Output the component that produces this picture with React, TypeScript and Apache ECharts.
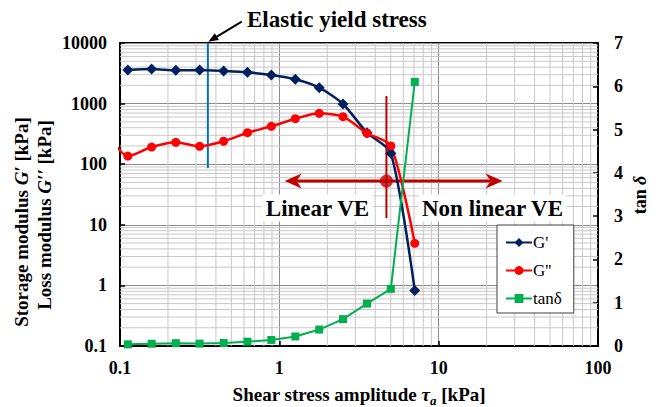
import React, { useEffect, useRef } from 'react';
import * as echarts from 'echarts';

// Shear stress amplitude sweep [kPa]
const stress = [0.112, 0.158, 0.224, 0.316, 0.447, 0.631, 0.891, 1.26, 1.78, 2.51, 3.55, 5.01, 7.08];
// Storage modulus G' [kPa]
const storageModulus = [3580, 3720, 3540, 3580, 3450, 3280, 2970, 2520, 1830, 985, 331, 152, 0.82];
// Loss modulus G'' [kPa] (one extra reading below the plotted range)
const lossStress = [0.0794, 0.112, 0.158, 0.224, 0.316, 0.447, 0.631, 0.891, 1.26, 1.78, 2.51, 3.55, 5.01, 7.08];
const lossModulus = [400, 136, 192, 230, 197, 239, 331, 422, 564, 692, 608, 324, 200, 4.95];
// Loss factor tan(delta)
const tanDelta = [0.038, 0.052, 0.065, 0.055, 0.069, 0.10, 0.14, 0.22, 0.38, 0.62, 0.98, 1.32, 6.1];

// Tick labels
const xTicks = ['0.1', '1', '10', '100'];
const yTicks = ['0.1', '1', '10', '100', '1000', '10000'];

// Annotations (data units)
const yieldStress = 0.356;
const yieldMarker = [86, 10000];
const transitionStress = 4.7;
const transitionMarker = [12.9, 1334];
const regimeLevel = 52.8;
const regimeArrow = [1.08, 25.2];

const FONT = '"Liberation Serif", "Times New Roman", Times, serif';
const NAVY = '#002060';
const RED = '#FF0000';
const GREEN = '#00B050';
const DARK_RED = '#C00000';
const BLUE = '#0070C0';

const minorX: number[] = [];
for (let e = -1; e <= 1; e++) for (let k = 2; k <= 9; k++) minorX.push(k * Math.pow(10, e));
const minorY: number[] = [];
for (let e = -1; e <= 3; e++) for (let k = 2; k <= 9; k++) minorY.push(k * Math.pow(10, e));

export default function App() {
  const ref = useRef<HTMLDivElement>(null);

  useEffect(() => {
    const chart = echarts.init(ref.current!, null, { renderer: 'svg' });

    const labelStyle = { fontFamily: FONT, fontWeight: 'bold' as const, fontSize: 18, color: '#000' };
    const titleRich = {
      b: { fontFamily: FONT, fontWeight: 'bold', fontSize: 19, fill: '#000' },
      i: { fontFamily: FONT, fontWeight: 'bold', fontStyle: 'italic', fontSize: 19, fill: '#000' },
    };

    const option: any = {
      animation: false,
      backgroundColor: '#fff',
      grid: {
        left: 120,
        top: 43,
        right: 60,
        bottom: 61,
        show: true,
        borderColor: '#000',
        borderWidth: 2,
        backgroundColor: '#fff',
      },
      xAxis: {
        type: 'log',
        logBase: 10,
        min: 0.1,
        max: 100,
        axisLine: { lineStyle: { color: '#000', width: 2 } },
        axisTick: { inside: true, length: 5, lineStyle: { color: '#000', width: 1.5 } },
        axisLabel: {
          ...labelStyle,
          margin: 13,
          formatter: (v: number) => xTicks.find((t) => Math.abs(parseFloat(t) - v) < 1e-9 * Math.max(1, v)) ?? String(v),
        },
        splitLine: { show: true, lineStyle: { color: '#8c8c8c', width: 1 } },
      },
      yAxis: [
        {
          type: 'log',
          logBase: 10,
          min: 0.1,
          max: 10000,
          axisLine: { show: true, lineStyle: { color: '#000', width: 2 } },
          axisTick: { show: true, inside: true, length: 5, lineStyle: { color: '#000', width: 1.5 } },
          axisLabel: {
            ...labelStyle,
            margin: 13,
            formatter: (v: number) => yTicks.find((t) => Math.abs(parseFloat(t) - v) < 1e-9 * Math.max(1, v)) ?? String(v),
          },
          splitLine: { show: true, lineStyle: { color: '#8c8c8c', width: 1 } },
        },
        {
          type: 'value',
          position: 'right',
          min: 0,
          max: 7,
          interval: 1,
          axisLine: { show: true, lineStyle: { color: '#000', width: 2 } },
          axisTick: { show: true, inside: true, length: 5, lineStyle: { color: '#000', width: 1.5 } },
          axisLabel: { ...labelStyle, margin: 16 },
          splitLine: { show: false },
        },
      ],
      legend: {
        data: ["G'", "G''", 'tanδ'],
        orient: 'vertical',
        left: 497,
        top: 225,
        itemWidth: 26,
        itemHeight: 11,
        itemGap: 11,
        padding: [9, 12, 6, 8],
        backgroundColor: '#fff',
        borderColor: '#404040',
        borderWidth: 1,
        borderRadius: 0,
        textStyle: { fontFamily: FONT, fontSize: 17, color: '#000', padding: [0, 0, 0, -4] },
      },
      graphic: [
        {
          type: 'text',
          x: 247,
          y: 19,
          z: 10,
          style: {
            text: 'Elastic yield stress',
            font: `bold 23px ${FONT}`,
            fill: '#000',
            align: 'left',
            verticalAlign: 'middle',
          },
        },
        {
          type: 'line',
          z: 10,
          shape: { x1: 241.7, y1: 21.7, x2: 214, y2: 38.3 },
          style: { stroke: '#000', lineWidth: 2 },
        },
        {
          type: 'polygon',
          z: 10,
          shape: { points: [[208.3, 41.7], [218.9, 40.0], [214.8, 33.2]] },
          style: { fill: '#000' },
        },
        {
          type: 'text',
          x: 317.5,
          y: 208,
          z: 10,
          style: {
            text: 'Linear VE',
            font: `bold 23px ${FONT}`,
            fill: '#000',
            align: 'center',
            verticalAlign: 'middle',
            backgroundColor: '#fff',
            padding: [3, 3, 1, 3],
          },
        },
        {
          type: 'text',
          x: 492.5,
          y: 208,
          z: 10,
          style: {
            text: 'Non linear VE',
            font: `bold 23px ${FONT}`,
            fill: '#000',
            align: 'center',
            verticalAlign: 'middle',
            backgroundColor: '#fff',
            padding: [3, 3, 1, 3],
          },
        },
        {
          type: 'text',
          x: 21,
          y: 222,
          rotation: Math.PI / 2,
          style: {
            text: '{b|Storage modulus }{i|G′}{b| [kPa]}',
            rich: titleRich,
            align: 'center',
            verticalAlign: 'middle',
          },
        },
        {
          type: 'text',
          x: 44,
          y: 215,
          rotation: Math.PI / 2,
          style: {
            text: '{b|Loss modulus }{i|G′′}{b| [kPa]}',
            rich: titleRich,
            align: 'center',
            verticalAlign: 'middle',
          },
        },
        {
          type: 'text',
          x: 640,
          y: 195,
          rotation: Math.PI / 2,
          style: {
            text: '{b|tan }{i|δ}',
            rich: {
              b: { fontFamily: FONT, fontWeight: 'bold', fontSize: 18, fill: '#000' },
              i: { fontFamily: FONT, fontWeight: 'bold', fontStyle: 'italic', fontSize: 18, fill: '#000' },
            },
            align: 'center',
            verticalAlign: 'middle',
          },
        },
        {
          type: 'text',
          x: 359,
          y: 394,
          style: {
            text: '{b|Shear stress amplitude }{i|τ}{s|a}{b| [kPa]}',
            rich: {
              b: { fontFamily: FONT, fontWeight: 'bold', fontSize: 19, fill: '#000', lineHeight: 26 },
              i: { fontFamily: FONT, fontWeight: 'bold', fontStyle: 'italic', fontSize: 19, fill: '#000', lineHeight: 26 },
              s: { fontFamily: FONT, fontWeight: 'bold', fontStyle: 'italic', fontSize: 13, fill: '#000', lineHeight: 13, verticalAlign: 'bottom' },
            },
            align: 'center',
            verticalAlign: 'middle',
          },
        },
      ],
      series: [
        {
          // minor log grid lines
          type: 'custom',
          silent: true,
          z: 1,
          xAxisIndex: 0,
          yAxisIndex: 0,
          data: [[1, 1]],
          renderItem: (_params: any, api: any) => {
            const top = api.coord([1, 10000])[1];
            const bottom = api.coord([1, 0.1])[1];
            const left = api.coord([0.1, 1])[0];
            const right = api.coord([100, 1])[0];
            const children: any[] = [];
            minorX.forEach((v) => {
              const x = api.coord([v, 1])[0];
              children.push({ type: 'line', shape: { x1: x, y1: top, x2: x, y2: bottom }, style: { stroke: '#c8c8c8', lineWidth: 1 } });
            });
            minorY.forEach((v) => {
              const y = api.coord([1, v])[1];
              children.push({ type: 'line', shape: { x1: left, y1: y, x2: right, y2: y }, style: { stroke: '#c8c8c8', lineWidth: 1 } });
            });
            return { type: 'group', children };
          },
        },
        {
          name: "G'",
          type: 'line',
          yAxisIndex: 0,
          z: 4,
          smooth: 0.25,
          data: stress.map((x, i) => [x, storageModulus[i]]),
          symbol: 'diamond',
          symbolSize: 11,
          showAllSymbol: true,
          itemStyle: { color: NAVY },
          lineStyle: { color: NAVY, width: 2.5 },
        },
        {
          name: "G''",
          type: 'line',
          yAxisIndex: 0,
          z: 4,
          smooth: 0.25,
          clip: true,
          data: lossStress.map((x, i) => [x, lossModulus[i]]),
          symbol: 'circle',
          symbolSize: 9,
          showAllSymbol: true,
          itemStyle: { color: RED },
          lineStyle: { color: RED, width: 2.5 },
        },
        {
          name: 'tanδ',
          type: 'line',
          yAxisIndex: 1,
          z: 4,
          data: stress.map((x, i) => [x, tanDelta[i]]),
          symbol: 'rect',
          symbolSize: 8,
          showAllSymbol: true,
          itemStyle: { color: GREEN },
          lineStyle: { color: GREEN, width: 2 },
        },
        {
          // elastic yield stress marker
          type: 'line',
          yAxisIndex: 0,
          z: 3,
          silent: true,
          symbol: 'none',
          data: [[yieldStress, yieldMarker[0]], [yieldStress, yieldMarker[1]]],
          lineStyle: { color: BLUE, width: 2 },
        },
        {
          // linear / non-linear transition marker
          type: 'line',
          yAxisIndex: 0,
          z: 3,
          silent: true,
          symbol: 'none',
          data: [[transitionStress, transitionMarker[0]], [transitionStress, transitionMarker[1]]],
          lineStyle: { color: DARK_RED, width: 2 },
        },
        {
          // double-headed regime arrow, tips at the two data positions
          type: 'custom',
          silent: true,
          z: 3,
          xAxisIndex: 0,
          yAxisIndex: 0,
          data: [[regimeArrow[0], regimeLevel, regimeArrow[1]]],
          renderItem: (_params: any, api: any) => {
            const a = api.coord([api.value(0), api.value(1)]);
            const b = api.coord([api.value(2), api.value(1)]);
            const len = 17;
            const half = 7.6;
            const notch = 12;
            const y = a[1];
            return {
              type: 'group',
              children: [
                {
                  type: 'line',
                  shape: { x1: a[0] + notch, y1: y, x2: b[0] - notch, y2: y },
                  style: { stroke: DARK_RED, lineWidth: 3 },
                },
                {
                  type: 'polygon',
                  shape: { points: [[a[0], y], [a[0] + len, y - half], [a[0] + notch, y], [a[0] + len, y + half]] },
                  style: { fill: DARK_RED },
                },
                {
                  type: 'polygon',
                  shape: { points: [[b[0], y], [b[0] - len, y - half], [b[0] - notch, y], [b[0] - len, y + half]] },
                  style: { fill: DARK_RED },
                },
              ],
            };
          },
        },
        {
          type: 'scatter',
          yAxisIndex: 0,
          z: 3,
          silent: true,
          symbol: 'circle',
          symbolSize: 13,
          data: [[transitionStress, regimeLevel]],
          itemStyle: { color: DARK_RED },
        },
      ],
    };

    chart.setOption(option);
    return () => chart.dispose();
  }, []);

  return <div ref={ref} style={{ position: 'fixed', left: 0, top: 0, width: 658, height: 407 }} />;
}
